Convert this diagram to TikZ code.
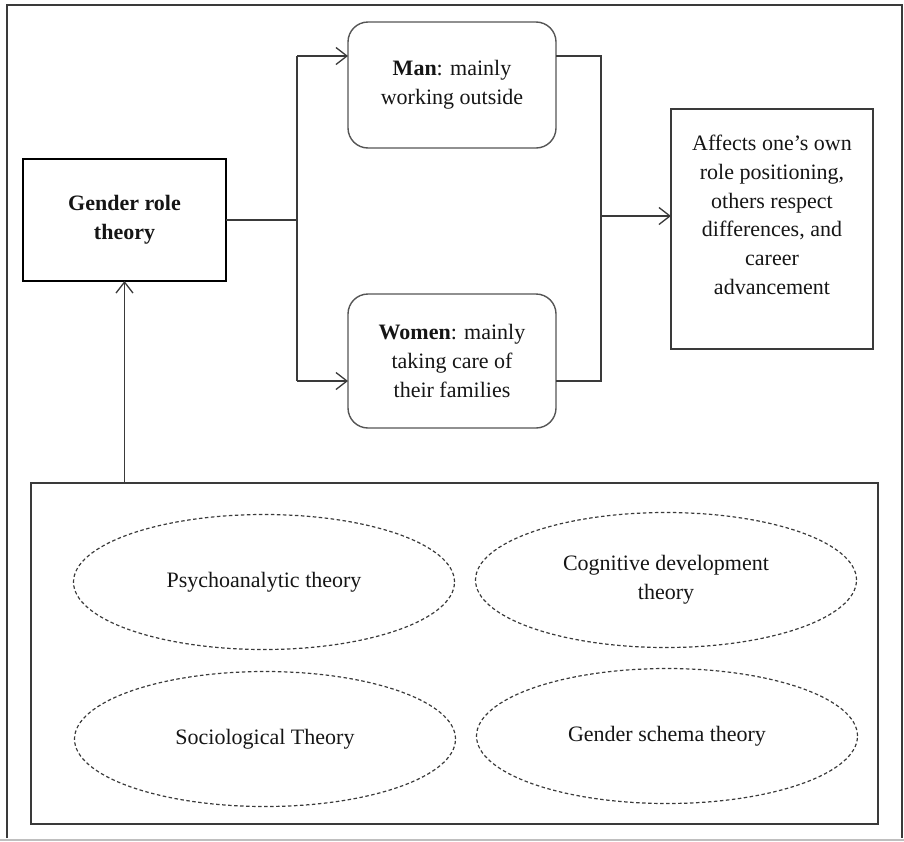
\documentclass[tikz,border=0pt]{standalone}
\usepackage{fontspec}
\setmainfont{Liberation Serif}
\usetikzlibrary{arrows.meta,shapes.geometric,calc}
\definecolor{ln}{HTML}{3A3A3A}
\definecolor{rb}{HTML}{555555}
\definecolor{tx}{HTML}{151515}
\begin{document}
\begin{tikzpicture}[x=1pt,y=-1pt,
  every node/.style={font=\fontsize{22}{28.7}\selectfont, text=tx, inner sep=0pt, outer sep=0pt, align=center},
  line/.style={draw=ln, line width=1.3pt},
  arr/.style={line, -{Straight Barb[length=11pt,width=17pt,line width=1.3pt]}},
  sqbox/.style={draw=ln, line width=1.4pt, rectangle},
  rbox/.style={draw=rb, line width=1.4pt, rectangle, rounded corners=20pt, minimum width=208pt},
  oval/.style={draw=ln, line width=1.2pt, dash pattern=on 3.5pt off 2.5pt, ellipse, minimum width=381pt, minimum height=135pt}
]
\useasboundingbox (0,0) rectangle (904,841);
% outer frame
\draw[draw=ln, line width=1.3pt] (7,838) -- (7,5) -- (902,5) -- (902,838);
\draw[draw=black!25, line width=1.5pt] (0,840) -- (904,840);

% main nodes
\node[draw=black, line width=2.8pt, minimum width=203pt, minimum height=122pt] (g) at (124.5,220) {\bfseries Gender role\\\bfseries theory};
\node[rbox, minimum height=126pt] (man) at (452,85) {\textbf{Man}: mainly\\working outside};
\node[rbox, minimum height=134pt] (wom) at (452,361) {\textbf{Women}: mainly\\taking care of\\their families};
\node[sqbox, minimum width=202pt, minimum height=240pt] (aff) at (772,229) {};
\node (afftext) at (772,215) {Affects one’s own\\role positioning,\\others respect\\differences, and\\career\\advancement};

% bottom box
\node[sqbox, minimum width=847pt, minimum height=341pt] (bot) at (454.5,653.5) {};
\node[oval] (psy) at (264,582) {Psychoanalytic theory};
\node[oval] (cog) at (666,580) {Cognitive development\\theory};
\node[oval] (soc) at (265,739) {Sociological Theory};
\node[oval] (gst) at (667,736) {Gender schema theory};

% connectors
\coordinate (split) at (297,220);
\coordinate (jtop) at (297,56);
\coordinate (jbot) at (297,381);
\coordinate (mout) at ($(man.north east)+(0,34)$);
\coordinate (wout) at ($(wom.north east)+(0,87)$);
\coordinate (min) at ($(man.north west)+(0,34)$);
\coordinate (win) at ($(wom.north west)+(0,87)$);
\coordinate (mtop) at (601,56);
\coordinate (mbot) at (601,381);
\coordinate (mmid) at (601,216);

\draw[line] (g.east |- split) -- (split);
\draw[line] (jtop) -- (jbot);
\draw[arr] (jtop) -- (min);
\draw[arr] (jbot) -- (win);
\draw[line] (mout) -- (mtop) -- (mbot) -- (wout);
\draw[arr] (mmid) -- (aff.west |- mmid);
\draw[arr] (bot.north -| g.south) -- (g.south);
\end{tikzpicture}
\end{document}
